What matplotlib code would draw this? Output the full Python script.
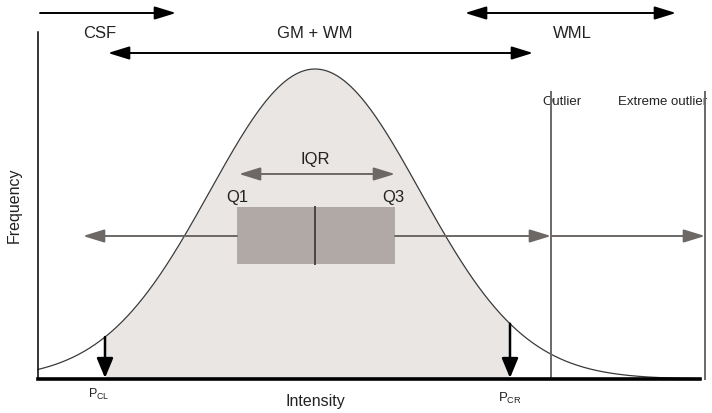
import numpy as np
import matplotlib.pyplot as plt

plt.rcParams['font.family'] = ['Liberation Sans', 'DejaVu Sans']

# diagram values (intensity axis in drawing units, frequency downwards from top)
mu = 315.0          # mean / median intensity
sigma = 105.0       # spread of the GM+WM peak
peak = 310.0        # peak frequency height
base = 380.0        # baseline level
x_start, x_end = 38.0, 700.0

p_cl, p_cr = 105.0, 510.0
q1, median, q3 = 237.0, 315.0, 395.0
box_top, box_bottom = 208.0, 265.0
whisker_y = 237.0
whisker_left = 83.0
outlier, extreme = 551.0, 705.0

# top range arrows: (label, start, end, arrow y, label x, two-headed)
ranges = [("CSF", 40.0, 176.0, 14.0, 100.0, False),
          ("GM + WM", 108.0, 533.0, 54.0, 315.0, True),
          ("WML", 465.0, 676.0, 14.0, 572.0, True)]

fill_col = '#e9e6e4'
box_col = '#b1a9a5'
grey = '#6d6866'
dark = '#222222'

fig = plt.figure(figsize=(7.12, 4.14), dpi=100)
ax = fig.add_axes([0, 0, 1, 1])
ax.set_xlim(0, 712)
ax.set_ylim(414, 0)
ax.axis('off')

x = np.linspace(x_start, 690, 600)
y = base - peak * np.exp(-(x - mu) ** 2 / (2 * sigma ** 2))

m = (x >= p_cl) & (x <= p_cr)
ax.fill_between(x[m], y[m], base, color=fill_col, lw=0, zorder=1)
ax.plot(x, y, color='#3a3a3a', lw=0.9, zorder=3)

# axes lines
ax.plot([x_start, x_start], [33, base], color='black', lw=1.1, zorder=4)
ax.plot([x_start, x_end], [base, base], color='black', lw=2.6, zorder=5)

# box
ax.fill_between([q1, q3], box_top, box_bottom, color=box_col, lw=0, zorder=3)
ax.plot([median, median], [box_top, box_bottom], color='#4a4544', lw=1.4, zorder=4)

def arrow(x0, y0, x1, y1, col, both=False, lw=1.4, style='-|>', hl=0.65, hw=0.2):
    st = ('<|-|>' if both else style) + f',head_length={hl},head_width={hw}'
    ax.annotate('', xy=(x1, y1), xytext=(x0, y0),
                arrowprops=dict(arrowstyle=st, color=col, lw=lw,
                                mutation_scale=20, shrinkA=0, shrinkB=0),
                zorder=6)

# whiskers
arrow(q1, whisker_y, whisker_left, whisker_y, grey)
arrow(q3, whisker_y, outlier, whisker_y, grey)
arrow(outlier, whisker_y, extreme, whisker_y, grey)

# outlier fences
for xv in (outlier, extreme):
    ax.plot([xv, xv], [93, base], color=grey, lw=1.4, zorder=4)
ax.text(outlier + 11, 102, "Outlier", fontsize=9.5, color=dark, ha='center', va='center')
ax.text(618, 102, "Extreme outlier", fontsize=9.5, color=dark, ha='left', va='center')

# IQR
arrow(q1 + 2, 175, q3, 175, grey, both=True)
ax.text(median, 160, "IQR", fontsize=12, color=dark, ha='center', va='center')
ax.text(q1, 198, "Q1", fontsize=12, color=dark, ha='center', va='center')
ax.text(q3 - 2, 198, "Q3", fontsize=12, color=dark, ha='center', va='center')

# percentile cut-offs
for xv in (p_cl, p_cr):
    yv = base - peak * np.exp(-(xv - mu) ** 2 / (2 * sigma ** 2))
    arrow(xv, yv, xv, base - 1, 'black', lw=1.8, style='-|>', hl=0.6, hw=0.25)
ax.text(p_cl - 6, 394, r"P$_{\mathregular{CL}}$", fontsize=9, color=dark, ha='center', va='center')
ax.text(p_cr, 398, r"P$_{\mathregular{CR}}$", fontsize=9.5, color=dark, ha='center', va='center')

# tissue ranges on top
for label, x0, x1, ya, xl, both in ranges:
    arrow(x0, ya, x1, ya, 'black', both=both, lw=1.4)
    ax.text(xl, 34, label, fontsize=12, color=dark, ha='center', va='center')

ax.text(14, 205, "Frequency", fontsize=11.5, color=dark, rotation=90, ha='center', va='center')
ax.text(315, 402, "Intensity", fontsize=11.5, color=dark, ha='center', va='center')

fig.savefig('out.png', dpi=100)
